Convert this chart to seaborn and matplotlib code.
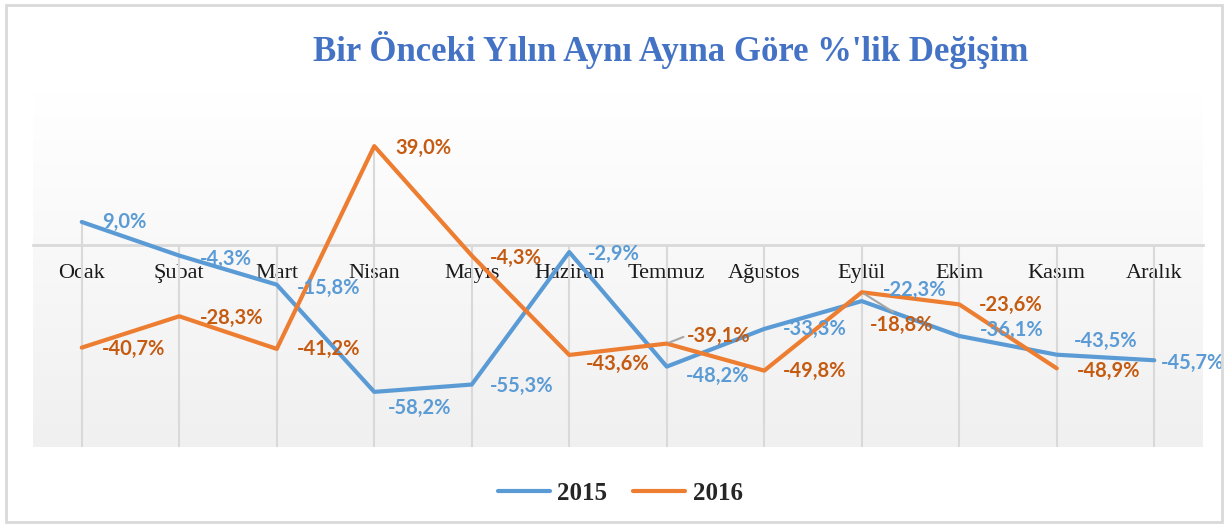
import numpy as np
import pandas as pd
import seaborn as sns
import matplotlib.pyplot as plt
from matplotlib.lines import Line2D
from matplotlib.patches import Rectangle

# Veriler
aylar = ['Ocak', 'Şubat', 'Mart', 'Nisan', 'Mayıs', 'Haziran', 'Temmuz',
         'Ağustos', 'Eylül', 'Ekim', 'Kasım', 'Aralık']
degisim_2015 = [9.0, -4.3, -15.8, -58.2, -55.3, -2.9, -48.2, -33.3, -22.3, -36.1, -43.5, -45.7]
degisim_2016 = [-40.7, -28.3, -41.2, 39.0, -4.3, -43.6, -39.1, -49.8, -18.8, -23.6, -48.9, np.nan]
yillar = ['2015', '2016']

# etiket kaydırmaları (piksel, sağa / aşağı)
etiket_kayma = {
    '2015': [(20, 0), (21, 3), (20, 3), (14, 16), (18, 1), (19, 2), (19, 9),
             (19, 0), (21, -11), (21, -6), (17, -14), (7, 3)],
    '2016': [(20, 1), (21, 2), (20, 0), (21, 2), (18, 2), (17, 9), (20, -8),
             (19, 0), (8, 33), (20, 1), (20, 3), (0, 0)],
}
renk_cizgi = {'2015': '#5B9BD5', '2016': '#ED7D31'}
renk_etiket = {'2015': '#5B9BD5', '2016': '#C55A11'}

df = pd.DataFrame({'Ay': aylar, '2015': degisim_2015, '2016': degisim_2016})
uzun = df.melt(id_vars='Ay', var_name='Yıl', value_name='Değişim').dropna()

sns.set_style('white')
fig = plt.figure(figsize=(12.29, 5.27), dpi=100)
ax = fig.add_axes([33 / 1229, 80 / 527, 1170 / 1229, 354 / 527])

sns.lineplot(data=uzun, x='Ay', y='Değişim', hue='Yıl', palette=renk_cizgi,
             sort=False, lw=3, ax=ax, legend=False, zorder=3,
             solid_joinstyle='round', solid_capstyle='round')

ax.set_xlim(-0.5, len(aylar) - 0.5)
ax.set_ylim(-80, 60)

# arka plan gradyanı
grad = np.linspace(0, 1, 256).reshape(-1, 1)
ax.imshow(grad, extent=(-0.5, len(aylar) - 0.5, -80, 60), aspect='auto',
          cmap=plt.matplotlib.colors.LinearSegmentedColormap.from_list('g', ['#f0f0f0', '#ffffff']),
          origin='lower', zorder=0)

# düşey çizgiler
ust = np.fmax(0, np.nanmax([degisim_2015, degisim_2016], axis=0))
ax.vlines(range(len(aylar)), -80, ust, color='#d9d9d9', lw=1.5, zorder=1)

# veri etiketleri
for yil, degerler in [('2015', degisim_2015), ('2016', degisim_2016)]:
    for i, v in enumerate(degerler):
        if np.isnan(v):
            continue
        dx, dy = etiket_kayma[yil][i]
        metin = f'{v:.1f}%'.replace('.', ',')
        ok = None
        if (yil, aylar[i]) in [('2016', 'Eylül'), ('2016', 'Temmuz')]:
            ok = dict(arrowstyle='-', color='#a6a6a6', lw=1.5, shrinkA=0, shrinkB=2,
                      relpos=(0.45, 1) if aylar[i] == 'Eylül' else (0, 0.5))
        ax.annotate(metin, (i, v), xytext=(dx, -dy), textcoords='offset pixels',
                    ha='left', va='center', fontsize=14.5, fontweight='bold',
                    family='Lato', color=renk_etiket[yil], zorder=5, arrowprops=ok)

# eksenler
for s in ['top', 'left', 'right']:
    ax.spines[s].set_visible(False)
ax.spines['bottom'].set_position(('data', 0))
ax.spines['bottom'].set_color('#d9d9d9')
ax.spines['bottom'].set_linewidth(2)
ax.spines['bottom'].set_zorder(2)
ax.set_yticks([])
ax.set_xticks(range(len(aylar)))
ax.set_xticklabels(aylar, family='Liberation Serif', fontsize=16, color='#1a1a1a')
ax.tick_params(axis='x', length=0, pad=14)
ax.set_xlabel('')
ax.set_ylabel('')

fig.text(671 / 1229, 1 - 50 / 527, "Bir Önceki Yılın Aynı Ayına Göre %'lik Değişim",
         ha='center', va='center', fontsize=25, fontweight='bold',
         family='Liberation Serif', color='#4472C4')

tutucular = [Line2D([], [], color=renk_cizgi[y], lw=3, solid_capstyle='round') for y in yillar]
fig.legend(tutucular, yillar, loc='center', bbox_to_anchor=(620 / 1229, 1 - 493 / 527),
           ncol=2, frameon=False, handlelength=2.1, columnspacing=1.0, handletextpad=0.3,
           prop={'family': 'Liberation Serif', 'weight': 'bold', 'size': 18})

fig.patches.append(Rectangle((6 / 1229, 5 / 527), 1216 / 1229, 517 / 527,
                             transform=fig.transFigure, fill=False,
                             edgecolor='#d9d9d9', lw=2))

plt.savefig('out.png', dpi=100)
